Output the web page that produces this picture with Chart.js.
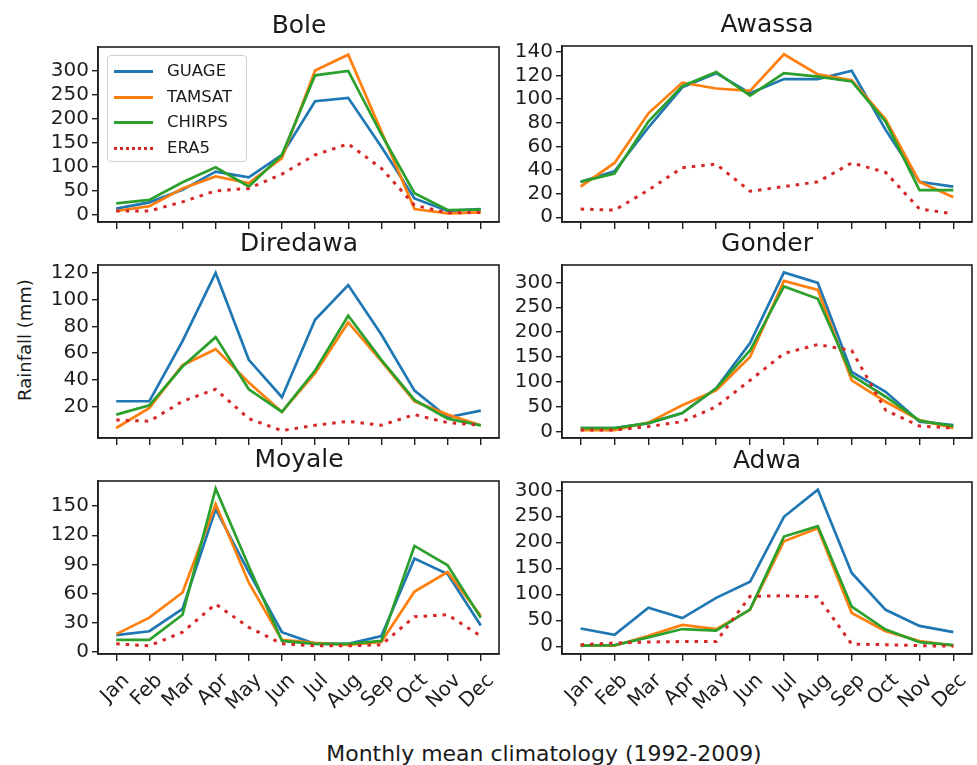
<!DOCTYPE html>
<html><head><meta charset="utf-8">
<script src="https://cdn.jsdelivr.net/npm/chart.js@4.4.0/dist/chart.umd.min.js"></script>
<style>
html,body{margin:0;padding:0;background:#fff;}
body{width:977px;height:765px;overflow:hidden;position:relative;font-family:"DejaVu Sans",sans-serif;color:#1a1a1a;}
canvas{position:absolute;}
.ttl{position:absolute;font-size:24px;white-space:nowrap;transform:translateX(-50%) scaleX(1.04);line-height:1;}
#ylab{position:absolute;left:25px;top:340px;font-size:18px;white-space:nowrap;transform:translate(-50%,-50%) rotate(-90deg);line-height:1;}
#xlab{position:absolute;left:544px;top:744px;font-size:21px;white-space:nowrap;transform:translateX(-50%) scaleX(1.045);line-height:1;}
#legend{position:absolute;left:107px;top:55px;width:140px;height:107px;border:1px solid #d0d0d0;border-radius:4px;background:rgba(255,255,255,0.85);box-sizing:border-box;}
.lg{position:absolute;left:0;height:20px;width:139px;}
.lg span{position:absolute;left:59px;top:0;font-size:16.5px;line-height:20px;}
.lg i{position:absolute;left:6px;top:9px;width:39px;height:0;border-top:3px solid;}
</style></head><body>
<div id="ylab">Rainfall (mm)</div>
<div id="xlab">Monthly mean climatology (1992-2009)</div>
<script>
// ---------- data ----------
const months = ['Jan','Feb','Mar','Apr','May','Jun','Jul','Aug','Sep','Oct','Nov','Dec'];
const seriesNames = ['GUAGE','TAMSAT','CHIRPS','ERA5'];
const stationNames = ['Bole','Awassa','Diredawa','Gonder','Moyale','Adwa'];

const boleGUAGE  = [13,26,52,90,78,125,237,244,142,34,8,12];
const boleTAMSAT = [8,18,55,80,66,118,301,334,174,12,3,5];
const boleCHIRPS = [24,31,68,99,59,125,291,300,168,45,10,11];
const boleERA5   = [8,8,27,50,55,85,125,148,97,20,4,5];

const awassaGUAGE  = [30,39,76,110,122,105,117,117,124,74,30,26];
const awassaTAMSAT = [26,46,88,114,109,107,138,121,116,83,30,17];
const awassaCHIRPS = [30,37,81,111,123,103,122,119,115,81,23,23];
const awassaERA5   = [7,6,23,42,45,22,26,30,46,38,7,3];

const diredawaGUAGE  = [24,24,69,120,55,27,85,111,74,32,12,17];
const diredawaTAMSAT = [4,19,51,63,38,16,45,83,54,24,14,6];
const diredawaCHIRPS = [14,21,50,72,33,16,47,88,55,25,11,6];
const diredawaERA5   = [10,9,24,33,11,2,6,9,6,14,8,6];

const gonderGUAGE  = [7,7,17,37,87,178,320,299,120,80,20,13];
const gonderTAMSAT = [3,3,18,53,83,150,303,285,103,60,23,7];
const gonderCHIRPS = [7,7,17,37,87,163,292,267,113,70,22,11];
const gonderERA5   = [3,3,10,20,50,103,157,175,163,43,11,7];

const moyaleGUAGE  = [17,21,44,147,82,20,8,8,16,96,80,27];
const moyaleTAMSAT = [18,35,61,152,71,12,9,7,10,62,82,37];
const moyaleCHIRPS = [12,12,38,168,88,11,8,8,11,109,89,35];
const moyaleERA5   = [8,6,20,49,25,8,6,6,7,36,38,16];

const adwaGUAGE  = [34,22,74,54,93,124,249,301,141,70,39,27];
const adwaTAMSAT = [1,1,20,41,33,70,202,227,64,29,10,1];
const adwaCHIRPS = [1,2,17,33,30,71,211,231,76,32,8,2];
const adwaERA5   = [3,6,8,9,9,96,97,95,4,3,1,0];

const boleTicks     = [0,50,100,150,200,250,300];
const awassaTicks   = [0,20,40,60,80,100,120,140];
const diredawaTicks = [20,40,60,80,100,120];
const gonderTicks   = [0,50,100,150,200,250,300];
const moyaleTicks   = [0,30,60,90,120,150];
const adwaTicks     = [0,50,100,150,200,250,300];

// ---------- styling / layout ----------
const colors = ['#1f77b4','#ff7f0e','#2ca02c','#d62728'];
const INK = '#1e1e1e';

const panels = [
  {name:stationNames[0], vals:[boleGUAGE,boleTAMSAT,boleCHIRPS,boleERA5], ticks:boleTicks, min:-15, max:350, L:98, R:499, T:47, B:222, yW:98, bottom:false},
  {name:stationNames[1], vals:[awassaGUAGE,awassaTAMSAT,awassaCHIRPS,awassaERA5], ticks:awassaTicks, min:-4, max:145, L:562, R:972, T:46, B:222, yW:64, bottom:false},
  {name:stationNames[2], vals:[diredawaGUAGE,diredawaTAMSAT,diredawaCHIRPS,diredawaERA5], ticks:diredawaTicks, min:-3.5, max:126, L:98, R:499, T:265, B:438, yW:98, bottom:false},
  {name:stationNames[3], vals:[gonderGUAGE,gonderTAMSAT,gonderCHIRPS,gonderERA5], ticks:gonderTicks, min:-13, max:335, L:562, R:972, T:265, B:438, yW:64, bottom:false},
  {name:stationNames[4], vals:[moyaleGUAGE,moyaleTAMSAT,moyaleCHIRPS,moyaleERA5], ticks:moyaleTicks, min:-2.5, max:176, L:98, R:499, T:481, B:654, yW:98, bottom:true},
  {name:stationNames[5], vals:[adwaGUAGE,adwaTAMSAT,adwaCHIRPS,adwaERA5], ticks:adwaTicks, min:-15, max:316, L:562, R:972, T:482, B:654, yW:64, bottom:true}
];

const boxPlugin = {
  id:'box',
  afterDraw(chart){
    const {ctx, chartArea:a} = chart;
    ctx.save();
    ctx.strokeStyle = INK; ctx.lineWidth = 1.6;
    ctx.strokeRect(a.left, a.top, a.right - a.left, a.bottom - a.top);
    ctx.restore();
  }
};

panels.forEach(p => {
  const padTop = 12, padRight = 4;
  const xH = p.bottom ? 95 : 12;
  const plotW = p.R - p.L, plotH = p.B - p.T;
  const cw = p.yW + plotW + padRight, ch = padTop + plotH + xH;
  const cv = document.createElement('canvas');
  cv.width = cw; cv.height = ch;
  cv.style.left = (p.L - p.yW) + 'px';
  cv.style.top = (p.T - padTop) + 'px';
  cv.style.width = cw + 'px'; cv.style.height = ch + 'px';
  document.body.appendChild(cv);

  const t = document.createElement('div');
  t.className = 'ttl';
  t.textContent = p.name;
  t.style.left = ((p.L + p.R) / 2) + 'px';
  t.style.top = (p.T - 34) + 'px';
  document.body.appendChild(t);

  new Chart(cv.getContext('2d'), {
    type:'line',
    data:{
      datasets: seriesNames.map((s,k) => ({
        label:s,
        data:p.vals[k].map((v,i) => ({x:i, y:v})),
        borderColor:colors[k],
        backgroundColor:colors[k],
        borderWidth: k === 3 ? 3 : 2.7,
        borderDash: k === 3 ? [3.5,6] : [],
        pointRadius:0,
        fill:false,
        tension:0,
        order:3-k
      }))
    },
    options:{
      responsive:false,
      animation:false,
      events:[],
      devicePixelRatio:1,
      layout:{padding:{top:padTop, right:padRight, left:0, bottom:0}},
      plugins:{legend:{display:false}, tooltip:{enabled:false}, title:{display:false}},
      scales:{
        x:{
          type:'linear', min:-0.55, max:11.55,
          afterBuildTicks: s => { s.ticks = months.map((m,i) => ({value:i})); },
          afterFit: s => { s.height = xH; s.paddingLeft = 0; s.paddingRight = 0; },
          grid:{display:true, drawOnChartArea:false, drawTicks:true, tickLength:7, color:INK, lineWidth:1.4},
          border:{display:true, color:INK, width:1.6},
          ticks:{display:p.bottom, autoSkip:false, maxRotation:45, minRotation:45, labelOffset:10, padding:8,
                 color:INK, font:{family:'DejaVu Sans', size:20}, callback:(v) => months[v]}
        },
        y:{
          min:p.min, max:p.max,
          afterBuildTicks: s => { s.ticks = p.ticks.map(v => ({value:v})); },
          afterFit: s => { s.width = p.yW; s.paddingTop = 0; s.paddingBottom = 0; },
          grid:{display:true, drawOnChartArea:false, drawTicks:true, tickLength:6, color:INK, lineWidth:1.4},
          border:{display:true, color:INK, width:1.6},
          ticks:{autoSkip:false, color:INK, padding:3, font:{family:'DejaVu Sans', size:20}}
        }
      }
    },
    plugins:[boxPlugin]
  });
});

// legend (built from the series names / colours)
const lg = document.createElement('div');
lg.id = 'legend';
seriesNames.forEach((s,k) => {
  const row = document.createElement('div');
  row.className = 'lg';
  row.style.top = (5 + k * 25.5) + 'px';
  const ln = document.createElement('i');
  ln.style.borderTopColor = colors[k];
  if (k === 3) { ln.style.borderTopStyle = 'dotted'; }
  const tx = document.createElement('span');
  tx.textContent = s;
  row.appendChild(ln); row.appendChild(tx);
  lg.appendChild(row);
});
document.body.appendChild(lg);
</script>
</body></html>
